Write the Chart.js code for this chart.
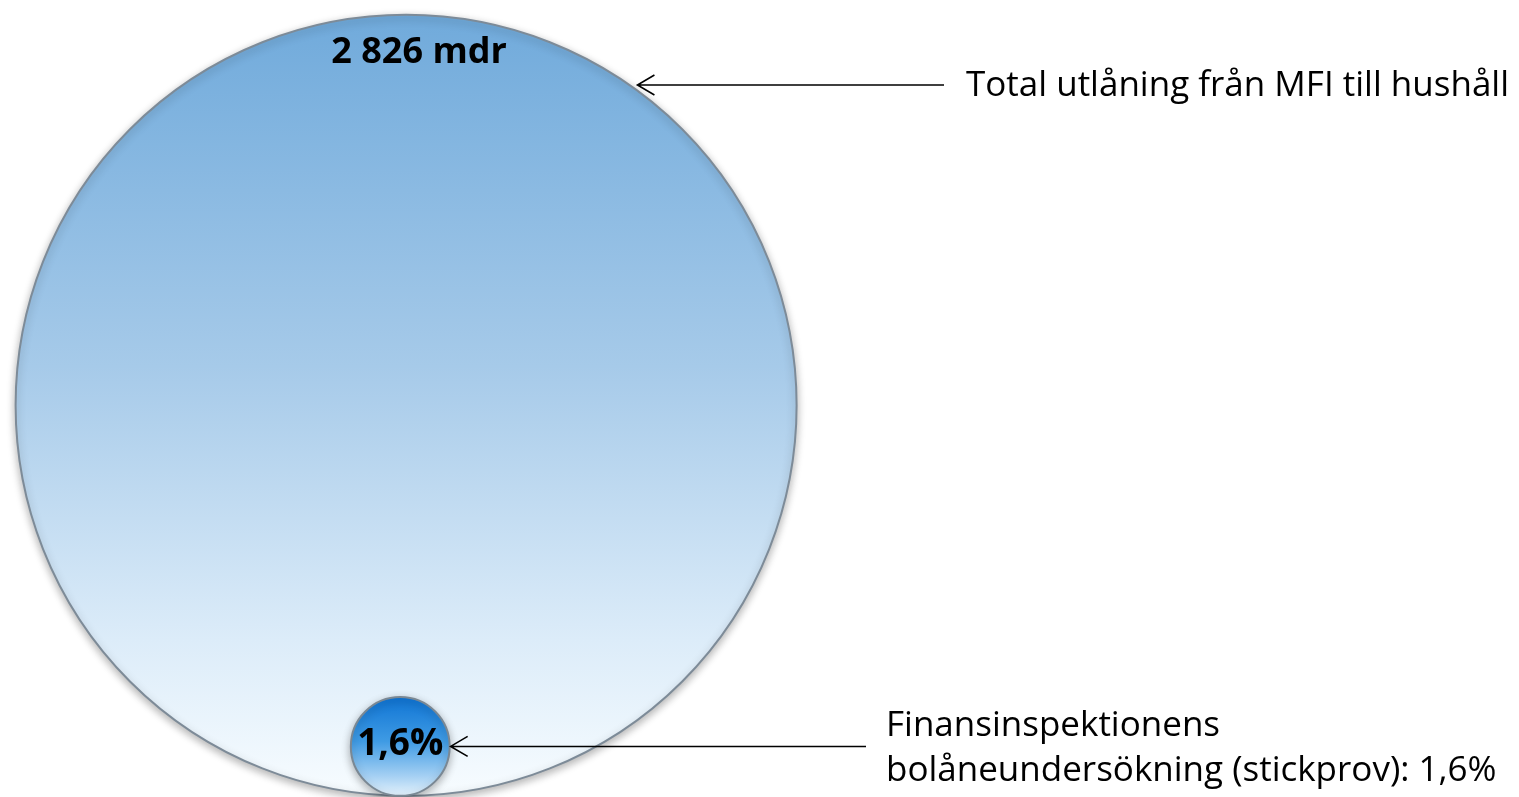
<!DOCTYPE html>
<html>
<head>
<meta charset="utf-8">
<script src="https://cdn.jsdelivr.net/npm/chart.js@4.4.0/dist/chart.umd.min.js"></script>
<style>
  html, body { margin: 0; padding: 0; background: #fff; overflow: hidden; }
  #wrap { width: 1519px; height: 797px; }
</style>
</head>
<body>
<div id="wrap"><canvas id="chart" width="1519" height="797"></canvas></div>
<script>
// Data: total household lending and the sample share
const bubbleNames = ['Total utlåning från MFI till hushåll', 'Finansinspektionens bolåneundersökning (stickprov)'];
const bubbleShares = [100, 1.6];            // % of total lending
const bubbleLabels = ['2 826 mdr', '1,6%'];
const bubbleX = [0, -0.015];                // placement in bubble units
const calloutLines = [
    ['Total utlåning från MFI till hushåll'],
    ['Finansinspektionens', 'bolåneundersökning (stickprov): 1,6%']
];

// Small bubble rests at the bottom of the big one
const bubbleY = bubbleShares.map((s, i) => i === 0 ? 0 : -(1 - Math.sqrt(s / 100)));

const Y_MIN = -1.003, Y_MAX = 1.038;
const FONT = '"Open Sans", "Noto Sans", sans-serif';

// pixels per bubble unit (chart area fills the canvas)
function unitPx(chart) {
    return chart.height / (Y_MAX - Y_MIN);
}

function bubbleRadius(chart, i) {
    return unitPx(chart) * Math.sqrt(bubbleShares[i] / 100);
}

function bubbleGeom(chart, i) {
    return {
        x: chart.scales.x.getPixelForValue(bubbleX[i]),
        y: chart.scales.y.getPixelForValue(bubbleY[i]),
        r: bubbleRadius(chart, i)
    };
}

function bubbleFill(context) {
    const chart = context.chart;
    if (!chart.chartArea) return '#8fbde3';
    const g = bubbleGeom(chart, context.dataIndex);
    if (!isFinite(g.y)) return '#8fbde3';
    const grad = chart.ctx.createLinearGradient(0, g.y - g.r, 0, g.y + g.r);
    if (context.dataIndex === 0) {
        grad.addColorStop(0, '#70aadb');
        grad.addColorStop(0.45, '#a6cae9');
        grad.addColorStop(0.8, '#dcecf9');
        grad.addColorStop(1, '#f7fcff');
    } else {
        grad.addColorStop(0, '#0f74d4');
        grad.addColorStop(0.45, '#3f9be4');
        grad.addColorStop(0.8, '#a5d0f3');
        grad.addColorStop(1, '#e4f2fc');
    }
    return grad;
}

// Soft shadow under the bubbles
const shadowPlugin = {
    id: 'shadow',
    beforeDatasetsDraw(chart) {
        const ctx = chart.ctx;
        ctx.save();
        ctx.shadowColor = 'rgba(0, 0, 0, 0.3)';
        ctx.shadowBlur = 8;
        ctx.shadowOffsetY = 3;
    },
    afterDatasetsDraw(chart) {
        chart.ctx.restore();
    }
};

function drawArrow(ctx, x1, y, x2) {
    ctx.beginPath();
    ctx.moveTo(x1, y);
    ctx.lineTo(x2, y);
    ctx.moveTo(x2 + 17, y - 10);
    ctx.lineTo(x2, y);
    ctx.lineTo(x2 + 17, y + 10);
    ctx.stroke();
}

// Value labels and callouts
const labelPlugin = {
    id: 'labels',
    afterDraw(chart) {
        const ctx = chart.ctx;
        ctx.save();
        const big = bubbleGeom(chart, 0);
        const small = bubbleGeom(chart, 1);

        ctx.fillStyle = '#000';
        ctx.textAlign = 'center';
        ctx.textBaseline = 'middle';
        ctx.font = 'bold 36px ' + FONT;
        ctx.fillText(bubbleLabels[0], big.x + 13, big.y - big.r + 38);
        ctx.font = 'bold 37px ' + FONT;
        ctx.fillText(bubbleLabels[1], small.x, small.y - 2);

        ctx.strokeStyle = '#000';
        ctx.lineWidth = 1.6;
        // callout 1: to the upper right edge of the big bubble
        const yA = 85;
        const tipA = big.x + Math.sqrt(big.r * big.r - (big.y - yA) * (big.y - yA)) + 8;
        drawArrow(ctx, 944, yA, tipA);
        // callout 2: to the right edge of the small bubble
        const yB = small.y;
        drawArrow(ctx, 866, yB, small.x + small.r + 1);

        ctx.textAlign = 'left';
        ctx.font = '35px ' + FONT;
        ctx.fillText(calloutLines[0][0], 966, 86);
        ctx.fillText(calloutLines[1][0], 886, 726);
        ctx.fillText(calloutLines[1][1], 886, 771);
        ctx.restore();
    }
};

new Chart(document.getElementById('chart').getContext('2d'), {
    type: 'bubble',
    data: {
        datasets: [{
            label: 'Utlåning',
            data: bubbleShares.map((s, i) => ({ x: bubbleX[i], y: bubbleY[i], name: bubbleNames[i] })),
            radius: context => bubbleRadius(context.chart, context.dataIndex),
            backgroundColor: bubbleFill,
            borderColor: ['#7d8b98', '#7a8894'],
            borderWidth: 2,
            clip: false
        }]
    },
    options: {
        responsive: false,
        animation: false,
        events: [],
        layout: { padding: 0, autoPadding: false },
        scales: {
            x: { type: 'linear', display: false, min: -1.04, max: 2.85 },
            y: { type: 'linear', display: false, min: Y_MIN, max: Y_MAX }
        },
        plugins: {
            legend: { display: false },
            tooltip: { enabled: false }
        }
    },
    plugins: [shadowPlugin, labelPlugin]
});
</script>
</body>
</html>
